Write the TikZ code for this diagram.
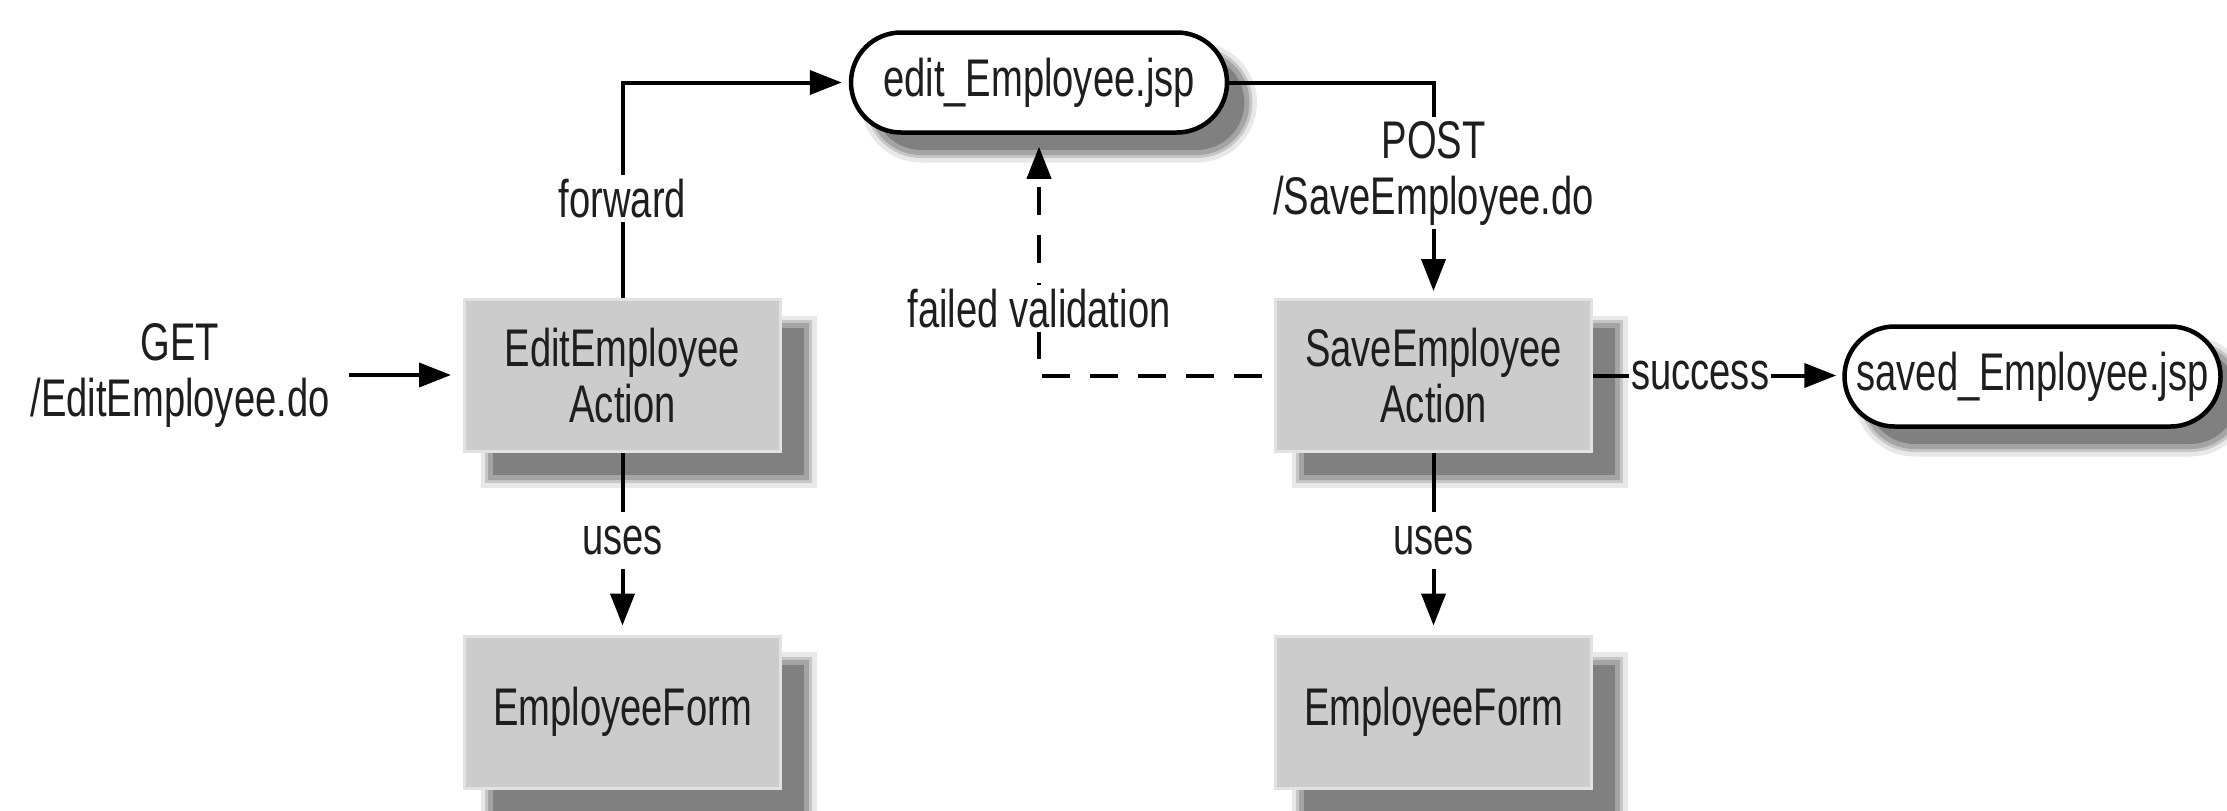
\documentclass[tikz,border=0pt]{standalone}
\usepackage{fontspec}
\setmainfont{Liberation Sans}[FakeStretch=0.72]
\usetikzlibrary{arrows.meta,shapes.misc}
\definecolor{boxgray}{HTML}{CCCCCC}
\definecolor{boxedge}{HTML}{E2E2E2}
\definecolor{shcore}{HTML}{808080}
\definecolor{shA}{HTML}{A4A4A4}
\definecolor{shB}{HTML}{C6C6C6}
\definecolor{shC}{HTML}{E8E8E8}
\definecolor{ink}{HTML}{1E1E1E}
\newcommand\dgfont{\fontsize{53}{56}\selectfont}
\tikzset{
  softshadow/.style={
    preaction={fill=shC, draw=shC, line width=20pt, transform canvas={shift={(#1,-#1)}}},
    preaction={fill=shB, draw=shB, line width=11pt, transform canvas={shift={(#1,-#1)}}},
    preaction={fill=shcore, draw=shA, line width=5pt, transform canvas={shift={(#1,-#1)}}}},
  actionbox/.style={softshadow=26pt, rectangle, fill=boxgray, draw=boxedge, line width=3pt,
    minimum width=316pt, minimum height=152pt, inner sep=0pt, align=center, font=\dgfont, text=ink},
  pagepill/.style={softshadow=20pt, rounded rectangle, fill=white, draw=black, line width=4.5pt,
    minimum width=376pt, minimum height=100pt, inner sep=0pt, font=\dgfont, text=ink},
  arr/.style={draw=black, line width=4pt, -{Triangle[length=32pt,width=24pt]}},
  lbl/.style={fill=white, inner sep=4pt, font=\dgfont, text=ink, align=center},
  useslbl/.style={lbl, inner ysep=14pt},
}
\begin{document}
\begin{tikzpicture}[x=1pt,y=-1pt]
\useasboundingbox (0,0) rectangle (2227,811);
% nodes
\node[lbl, fill=none] (get) at (180,375) {GET\\/EditEmployee.do};
\node[actionbox] (edit) at (622.5,375.5) {EditEmployee\\Action};
\node[actionbox] (form1) at (622.5,712) {EmployeeForm};
\node[actionbox] (save) at (1433.5,375.5) {SaveEmployee\\Action};
\node[actionbox] (form2) at (1433.5,712) {EmployeeForm};
\node[pagepill] (editjsp) at (1039,82.5) {edit\_Employee.jsp};
\node[pagepill] (savedjsp) at (2032.5,376.5) {saved\_Employee.jsp};
% connectors
\draw[arr, shorten <=15pt, shorten >=12pt] (get.east) -- (get.east -| edit.west);
\draw[arr, shorten >=7pt] (edit.north) |- node[lbl, pos=0.23] {forward} (editjsp.west);
\draw[arr, shorten >=9pt] (edit.south) -- node[useslbl, pos=0.48] {uses} (form1.north);
\draw[arr, shorten >=7pt] (editjsp.east) -| node[lbl, pos=0.71] {POST\\/SaveEmployee.do} (save.north);
\draw[arr, dash pattern=on 28pt off 20pt, shorten <=12pt, shorten >=12pt] (save.west) -| node[lbl, pos=0.64] {failed validation} (editjsp.south);
\draw[arr, shorten >=6pt] (save.east) -- node[lbl, pos=0.43, inner xsep=2pt] {success} (save.east -| savedjsp.west);
\draw[arr, shorten >=9pt] (save.south) -- node[useslbl, pos=0.48] {uses} (form2.north);
\end{tikzpicture}
\end{document}
